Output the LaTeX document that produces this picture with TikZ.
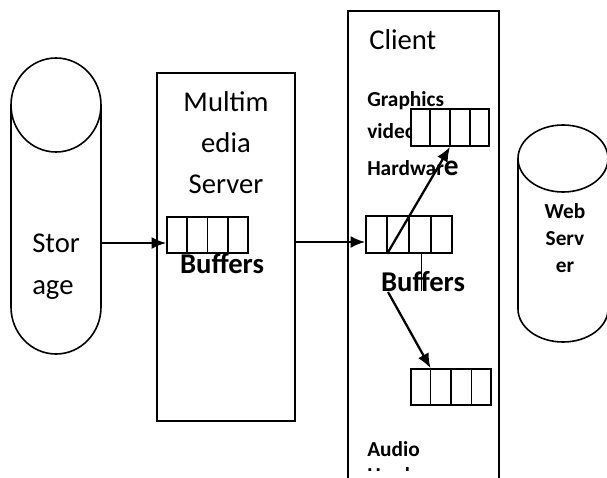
\documentclass[tikz,border=0pt]{standalone}
\usepackage{fontspec}
\setmainfont{Carlito}
\usetikzlibrary{arrows.meta,calc}
\newcommand\bufcells[1]{\foreach \f in {0.25,0.5,0.75}{\draw[line width=1.2pt] ($(#1.north west)!\f!(#1.north east)$) -- ($(#1.south west)!\f!(#1.south east)$);}}
\begin{document}
\begin{tikzpicture}[x=0.75pt,y=-0.75pt,
  outline/.style={line width=1.2pt},
  conn/.style={line width=1.7pt,-{Latex[length=11pt,width=9pt]}},
  big/.style={font=\fontsize{21.5}{25}\selectfont, inner sep=0pt},
  bigb/.style={font=\fontsize{21.5}{25}\selectfont\bfseries, inner sep=0pt},
  small/.style={font=\fontsize{16}{19}\selectfont\bfseries, inner sep=0pt},
  bufbox/.style={draw, fill=white, line width=1.2pt, inner sep=0pt},
]
\useasboundingbox (0,0) rectangle (607,478);
\fill[white] (0,0) rectangle (607,478);
\begin{scope}
\clip (0,0) rectangle (607,478);

% Storage cylinder
\draw[outline] (11,105) -- (11,307) arc[start angle=180, end angle=0, x radius=45, y radius=47] -- (101,105);
\draw[outline] (56,105) ellipse [x radius=45, y radius=47];
\node[big, anchor=base west] (stor1) at (32,252) {Stor};
\node[big, anchor=base west] (stor2) at (32,294) {age};
\coordinate (storR) at (101,243);

% Multimedia server
\node[draw, outline, minimum width=103.5pt, minimum height=261pt, inner sep=0pt] (server) at (226,247) {};
\node[big, anchor=base] (m1) at (226,112) {Multim};
\node[big, anchor=base] (m2) at (226,152) {edia};
\node[big, anchor=base] (m3) at (226,193) {Server};
\node[bufbox, minimum width=60.75pt, minimum height=27pt] (sbuf) at (207.5,235) {};
\bufcells{sbuf}
\node[bigb, anchor=base] (sbl) at (222,273) {Buffers};

% Client
\node[small, anchor=base west] (ah) at (367,482) {Hardware};
\fill[white] (340,470.5) rectangle (505,490);
\node[draw, outline, minimum width=113.25pt, minimum height=400pt, inner sep=0pt, anchor=north west] (client) at (347,10) {};
\node[big, anchor=base west] (cl) at (369,50) {Client};
\node[small, anchor=base west] (vid) at (367,138) {video};
\node[bufbox, minimum width=58.5pt, minimum height=27.75pt] (gbuf) at (450,127.5) {};
\bufcells{gbuf}
\node[small, anchor=base west] (gr) at (367,107) {Graphics};
\node[small, anchor=base west] (hw) at (367,175) {Hardwar\fontsize{22}{25}\selectfont e};
\node[bufbox, minimum width=64.5pt, minimum height=27.75pt] (cbuf) at (409,234.5) {};
\bufcells{cbuf}
\node[bigb, anchor=base] (cbl) at (423,291) {Buffers};
\node[bufbox, minimum width=60pt, minimum height=27pt] (abuf) at (451,387) {};
\bufcells{abuf}
\node[small, anchor=base west] (au) at (367,456) {Audio};

% Web server cylinder
\draw[outline] (518,158.5) -- (518,309) arc[start angle=180, end angle=0, x radius=45, y radius=33] -- (608,158.5);
\draw[outline] (563,158.5) ellipse [x radius=45, y radius=33.5];
\node[small, anchor=base] (w1) at (565,218) {Web};
\node[small, anchor=base] (w2) at (565,245) {Serv};
\node[small, anchor=base] (w3) at (565,272) {er};

% connectors
\draw[conn] (storR) -- (storR -| sbuf.west);
\coordinate (servR) at (295,242);
\draw[conn] (servR) -- (servR -| cbuf.west);
\draw[conn] ($(cbuf.south west)!0.25!(cbuf.south east)$) -- ($(gbuf.south west)!0.5!(gbuf.south east)$);
\coordinate (bstart) at (388,292);
\draw[conn] (bstart) -- ($(abuf.north west)!0.25!(abuf.north east)$);
\draw[line width=0.6pt] ($(cbuf.south west)!0.64!(cbuf.south east)$) -- ++(0,37);
\end{scope}
\end{tikzpicture}
\end{document}
